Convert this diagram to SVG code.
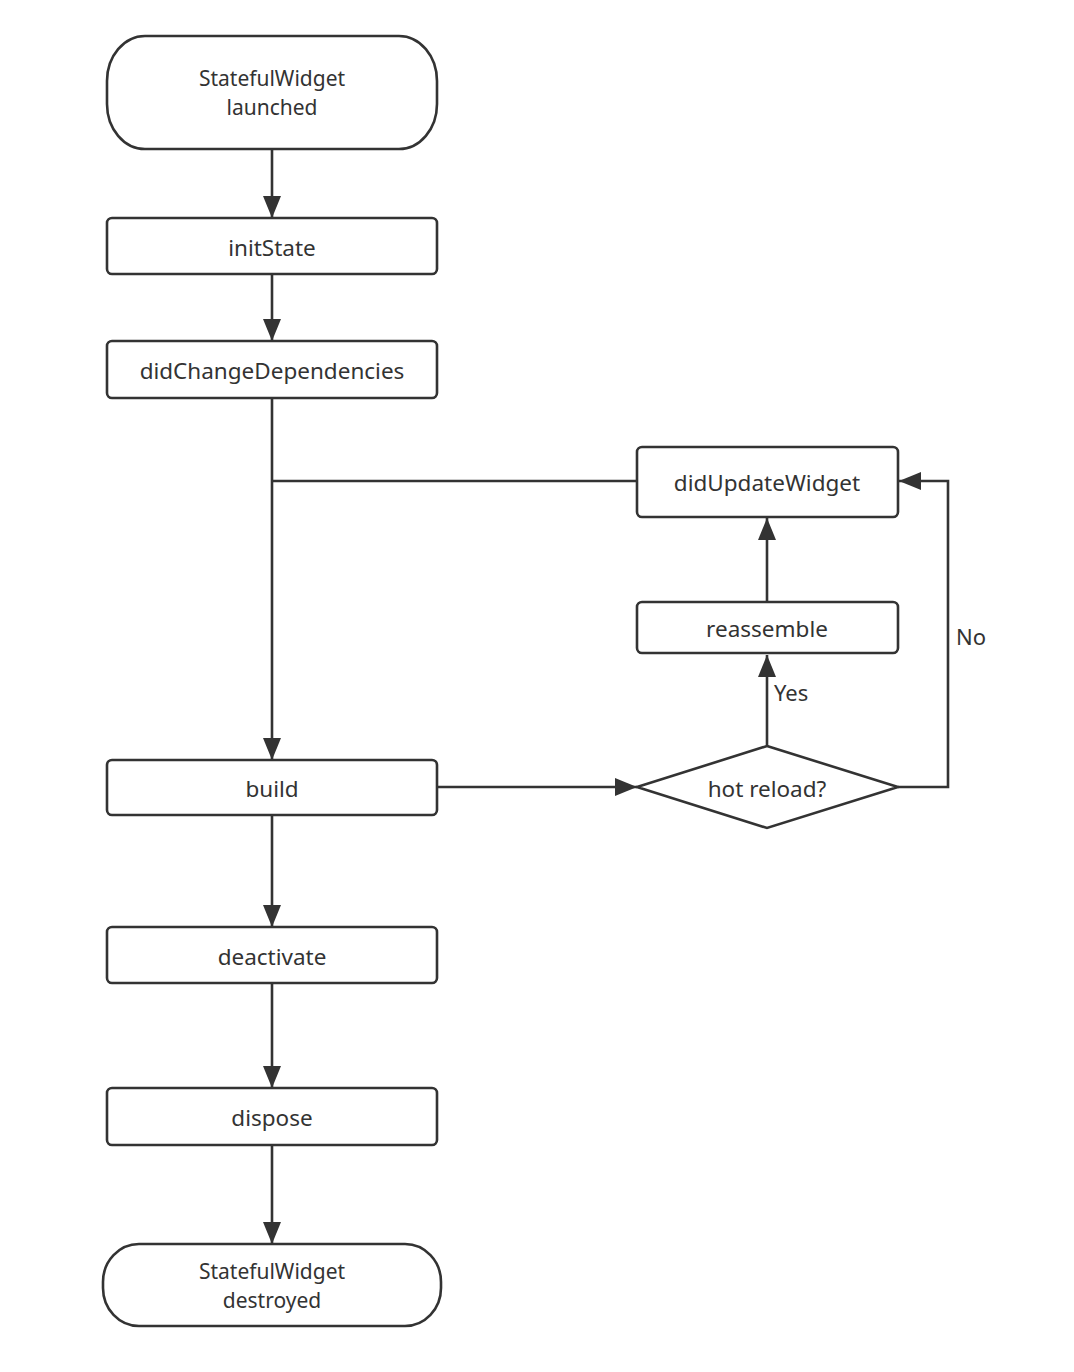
<svg xmlns="http://www.w3.org/2000/svg" width="1074" height="1372" viewBox="0 0 1074 1372">
<defs>
<style>
.n{fill:#fff;stroke:#333;stroke-width:2.6}
.t{font-family:"Noto Sans","Open Sans",sans-serif;font-size:22.5px;fill:#333;text-anchor:middle;dominant-baseline:central}
.t2{font-size:21px}
.c{fill:none;stroke:#333;stroke-width:2.6}
.l{font-family:"Noto Sans","Open Sans",sans-serif;font-size:22px;fill:#333}
</style>
<marker id="a" markerWidth="22" markerHeight="18" refX="22" refY="9" orient="auto" markerUnits="userSpaceOnUse">
<path d="M0,0 L22,9 L0,18 Z" fill="#333"/>
</marker>
</defs>
<rect width="1074" height="1372" fill="#fff"/>
<g id="connectors">
<path class="c" d="M272,149 V218" marker-end="url(#a)"/>
<path class="c" d="M272,274 V341" marker-end="url(#a)"/>
<path class="c" d="M272,398 V760" marker-end="url(#a)"/>
<path class="c" d="M637,481 H272"/>
<path class="c" d="M437,787 H637" marker-end="url(#a)"/>
<path class="c" d="M767,746 V655" marker-end="url(#a)"/>
<path class="c" d="M767,602 V518" marker-end="url(#a)"/>
<path class="c" d="M898,787 H948 V481 H899" marker-end="url(#a)"/>
<path class="c" d="M272,815 V927" marker-end="url(#a)"/>
<path class="c" d="M272,983 V1088" marker-end="url(#a)"/>
<path class="c" d="M272,1145 V1244" marker-end="url(#a)"/>
<text class="l" x="774" y="701">Yes</text>
<text class="l" x="956" y="645">No</text>
</g>
<g id="start"><rect class="n" x="107" y="36" width="330" height="113" rx="38" ry="45"/><text class="t t2" x="272" y="78">StatefulWidget<tspan x="272" dy="29">launched</tspan></text></g>
<g id="initState"><rect class="n" x="107" y="218" width="330" height="56" rx="5"/><text class="t" x="272" y="247">initState</text></g>
<g id="didChangeDependencies"><rect class="n" x="107" y="341" width="330" height="57" rx="5"/><text class="t" x="272" y="370">didChangeDependencies</text></g>
<g id="didUpdateWidget"><rect class="n" x="637" y="447" width="261" height="70" rx="5"/><text class="t" x="767" y="482">didUpdateWidget</text></g>
<g id="reassemble"><rect class="n" x="637" y="602" width="261" height="51" rx="5"/><text class="t" x="767" y="628">reassemble</text></g>
<g id="build"><rect class="n" x="107" y="760" width="330" height="55" rx="5"/><text class="t" x="272" y="788">build</text></g>
<g id="hotReload"><path class="n" d="M767,746 L898,787 L767,828 L637,787 Z"/><text class="t" x="767" y="788">hot reload?</text></g>
<g id="deactivate"><rect class="n" x="107" y="927" width="330" height="56" rx="5"/><text class="t" x="272" y="956">deactivate</text></g>
<g id="dispose"><rect class="n" x="107" y="1088" width="330" height="57" rx="5"/><text class="t" x="272" y="1117">dispose</text></g>
<g id="end"><rect class="n" x="103" y="1244" width="338" height="82" rx="36" ry="38"/><text class="t t2" x="272" y="1271">StatefulWidget<tspan x="272" dy="29">destroyed</tspan></text></g>
</svg>
